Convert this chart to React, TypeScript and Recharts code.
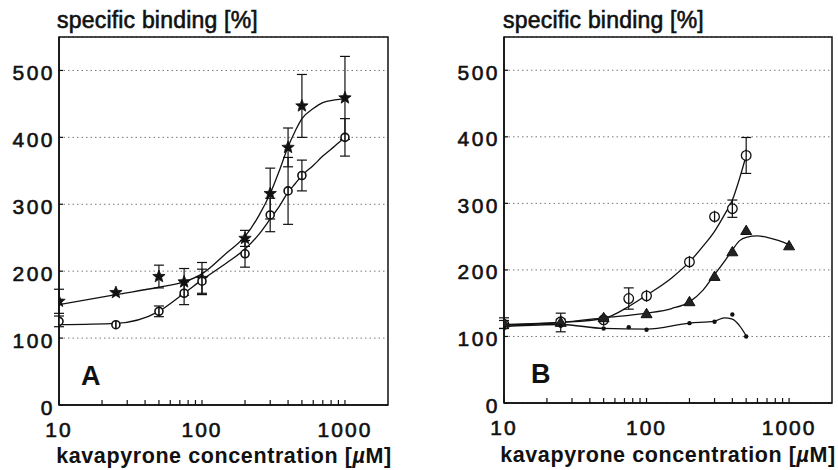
import React from 'react';
import {
  ComposedChart,
  Line,
  Scatter,
  XAxis,
  YAxis,
  CartesianGrid,
  ErrorBar,
  ReferenceArea,
} from 'recharts';

const FONT = "'Liberation Sans', Arial, Helvetica, sans-serif";
const INK = '#111';

// axis ticks
const X_TICKS = [10, 20, 30, 40, 50, 60, 70, 80, 90, 100, 200, 300, 400, 500, 600, 700, 800, 900, 1000];
const X_LABELS = [10, 100, 1000];
const Y_TICKS = [0, 100, 200, 300, 400, 500];

// panel A: measured points
const A_CONC = [10, 25, 50, 75, 100, 200, 300, 400, 500, 1000];
const A_STAR = [155, 168, 192, 184, 189, 249, 316, 385, 447, 459];
const A_STAR_ERR = [18, null, 17, 20, 24, 12, 38, 29, 47, 62];
const A_CIRC = [125, 120, 140, 167, 185, 226, 284, 320, 343, 400];
const A_CIRC_ERR = [8, null, 8, 17, 18, 20, 25, 50, 23, 28];

// panel A: fitted curves
const A_FIT_CONC = [10, 25, 50, 75, 100, 150, 200, 250, 300, 350, 400, 450, 500, 600, 700, 850, 1000];
const A_STAR_FIT = [150, 165, 176, 184, 196, 228, 252, 283, 316, 352, 386, 410, 428, 443, 452, 456, 458];
const A_CIRC_FIT = [120, 122, 140, 167, 187, 213, 233, 255, 278, 298, 318, 331, 343, 358, 372, 387, 400];

// panel B: measured points
const B_CONC = [10, 25, 50, 75, 100, 200, 300, 400, 500];
const B_CIRC = [118, 122, 125, 157, 161, 212, 280, 292, 372];
const B_CIRC_ERR = [6, 4, null, 16, null, null, null, 13, 27];
const B_TRI_CONC = [10, 25, 50, 100, 200, 300, 400, 500, 1000];
const B_TRI = [120, 121, 128, 134, 152, 190, 227, 259, 236];
const B_TRI_ERR = [8, 14, null, null, null, null, null, null, null];
const B_DOT = [113, 116, 112, 114, 110, 120, 122, 133, 100];

// panel B: fitted curves
const B_CIRC_FIT_CONC = [10, 25, 50, 75, 100, 150, 200, 250, 300, 350, 400, 450, 500];
const B_CIRC_FIT = [118, 121, 127, 145, 162, 188, 212, 236, 258, 282, 305, 338, 372];
const B_TRI_FIT_CONC = [10, 25, 50, 100, 150, 200, 250, 300, 350, 400, 450, 500, 600, 700, 850, 1000];
const B_TRI_FIT = [117, 121, 128, 135, 142, 152, 170, 193, 212, 230, 244, 249, 251, 249, 244, 238];
const B_DOT_FIT_CONC = [10, 25, 50, 100, 200, 300, 350, 400, 450, 500];
const B_DOT_FIT = [115, 118, 112, 111, 120, 123, 128, 126, 116, 101];

type Pt = { x: number; y: number; err?: number | null };

const pts = (xs: number[], ys: number[], errs?: (number | null)[]): Pt[] =>
  xs.map((x, i) => ({ x, y: ys[i], err: errs ? errs[i] : null }));

// thickened text, closer to the heavy print of the scan
const HEAVY = { stroke: INK, strokeWidth: 0.6, paintOrder: 'stroke' } as const;

// ---- markers -------------------------------------------------------------

function StarMark({ cx, cy }: any) {
  const p: string[] = [];
  for (let i = 0; i < 10; i++) {
    const r = i % 2 === 0 ? 6.5 : 2.8;
    const a = -Math.PI / 2 + (i * Math.PI) / 5;
    p.push(`${cx + r * Math.cos(a)},${cy + r * Math.sin(a)}`);
  }
  return <polygon points={p.join(' ')} fill={INK} stroke={INK} strokeWidth={0.8} />;
}

function SmallCircle({ cx, cy }: any) {
  return (
    <g>
      <circle cx={cx} cy={cy} r={4} fill="#fff" stroke={INK} strokeWidth={1.6} />
      <line x1={cx} y1={cy - 4} x2={cx} y2={cy + 4} stroke={INK} strokeWidth={1.6} />
    </g>
  );
}

function PhiMark({ cx, cy }: any) {
  return (
    <g>
      <circle cx={cx} cy={cy} r={4.8} fill="#fff" stroke={INK} strokeWidth={1.3} />
      <line x1={cx} y1={cy - 6} x2={cx} y2={cy + 6} stroke={INK} strokeWidth={1.3} />
    </g>
  );
}

function TriMark({ cx, cy }: any) {
  const s = 5.5;
  return (
    <polygon
      points={`${cx},${cy - s} ${cx + s},${cy + s * 0.7} ${cx - s},${cy + s * 0.7}`}
      fill="#222"
      stroke={INK}
      strokeWidth={1}
    />
  );
}

function DotMark({ cx, cy }: any) {
  return <circle cx={cx} cy={cy} r={2.2} fill={INK} />;
}

// ---- axis ticks ----------------------------------------------------------

function XTick({ x, y, payload }: any) {
  const v = payload.value;
  return (
    <g>
      <line x1={x} y1={y} x2={x} y2={y - 5} stroke={INK} strokeWidth={1.2} />
      {X_LABELS.includes(v) ? (
        <text
          x={x}
          y={y + 32}
          textAnchor="middle"
          fontFamily={FONT}
          fontSize={21}
          letterSpacing={2}
          fill={INK}
          {...HEAVY}
        >
          {v}
        </text>
      ) : null}
    </g>
  );
}

function YTick({ x, y, payload }: any) {
  return (
    <g>
      <line x1={x} y1={y} x2={x + 4} y2={y} stroke={INK} strokeWidth={1.2} />
      <text
        x={x - 4}
        y={y + 2}
        dominantBaseline="central"
        textAnchor="end"
        fontFamily={FONT}
        fontSize={21}
        letterSpacing={2.5}
        fill={INK}
        {...HEAVY}
      >
        {payload.value}
      </text>
    </g>
  );
}

// ---- panel ---------------------------------------------------------------

type Series = { fit: Pt[]; data: Pt[]; shape: (p: any) => React.ReactElement };

function Panel({
  left,
  right,
  bottom,
  series,
}: {
  left: number;
  right: number;
  bottom: number;
  series: Series[];
}) {
  return (
    <ComposedChart width={419} height={470} margin={{ top: 37, right, bottom: 0, left: 0 }}>
      <CartesianGrid vertical={false} stroke="#777" strokeDasharray="1.5 3" />
      <XAxis
        dataKey="x"
        type="number"
        scale="log"
        domain={[10, 2000]}
        allowDataOverflow
        ticks={X_TICKS}
        interval={0}
        tickSize={0}
        tickMargin={0}
        tickLine={false}
        tick={<XTick />}
        height={bottom}
        axisLine={{ stroke: INK, strokeWidth: 1.6 }}
      />
      <YAxis
        dataKey="y"
        type="number"
        domain={[0, 550]}
        allowDataOverflow
        ticks={Y_TICKS}
        interval={0}
        tickSize={0}
        tickMargin={0}
        tickLine={false}
        tick={<YTick />}
        width={left}
        axisLine={{ stroke: INK, strokeWidth: 1.6 }}
      />
      <ReferenceArea x1={10} x2={2000} y1={0} y2={550} fill="none" stroke={INK} strokeWidth={1.5} />
      {series.map((s, i) => (
        <Line
          key={`fit${i}`}
          data={s.fit}
          dataKey="y"
          type="monotone"
          stroke={INK}
          strokeWidth={1.3}
          dot={false}
          activeDot={false}
          isAnimationActive={false}
        />
      ))}
      {series.map((s, i) => (
        <Scatter key={`pts${i}`} data={s.data} dataKey="y" shape={s.shape} isAnimationActive={false}>
          <ErrorBar dataKey="err" direction="y" width={5} stroke={INK} strokeWidth={1.2} />
        </Scatter>
      ))}
    </ComposedChart>
  );
}

export default function App() {
  const seriesA: Series[] = [
    { fit: pts(A_FIT_CONC, A_STAR_FIT), data: pts(A_CONC, A_STAR, A_STAR_ERR), shape: (p) => <StarMark {...p} /> },
    { fit: pts(A_FIT_CONC, A_CIRC_FIT), data: pts(A_CONC, A_CIRC, A_CIRC_ERR), shape: (p) => <SmallCircle {...p} /> },
  ];
  const seriesB: Series[] = [
    { fit: pts(B_CIRC_FIT_CONC, B_CIRC_FIT), data: pts(B_CONC, B_CIRC, B_CIRC_ERR), shape: (p) => <PhiMark {...p} /> },
    { fit: pts(B_TRI_FIT_CONC, B_TRI_FIT), data: pts(B_TRI_CONC, B_TRI, B_TRI_ERR), shape: (p) => <TriMark {...p} /> },
    { fit: pts(B_DOT_FIT_CONC, B_DOT_FIT), data: pts(B_CONC, B_DOT), shape: (p) => <DotMark {...p} /> },
  ];

  const titleStyle = { fontFamily: FONT, fill: INK } as const;

  return (
    <div style={{ position: 'absolute', left: 0, top: 0, width: 838, height: 470, background: '#fff' }}>
      <div style={{ position: 'absolute', left: 0, top: 0 }}>
        <Panel left={59} right={31} bottom={65} series={seriesA} />
      </div>
      <div style={{ position: 'absolute', left: 419, top: 0 }}>
        <Panel left={85} right={6} bottom={67} series={seriesB} />
      </div>
      <svg width={838} height={470} style={{ position: 'absolute', left: 0, top: 0, pointerEvents: 'none' }}>
        <text x={57} y={28} fontSize={23} letterSpacing={0.2} {...titleStyle} {...HEAVY}>
          specific binding [%]
        </text>
        <text x={503} y={28} fontSize={23} letterSpacing={0.2} {...titleStyle} {...HEAVY}>
          specific binding [%]
        </text>
        <text x={224} y={463} fontSize={21.5} fontWeight="bold" textAnchor="middle" letterSpacing={0.6} {...titleStyle}>
          kavapyrone concentration [<tspan fontStyle="italic">µ</tspan>M]
        </text>
        <text x={668} y={462} fontSize={21.5} fontWeight="bold" textAnchor="middle" letterSpacing={0.6} {...titleStyle}>
          kavapyrone concentration [<tspan fontStyle="italic">µ</tspan>M]
        </text>
        <text x={81} y={385} fontSize={27} fontWeight="bold" {...titleStyle}>
          A
        </text>
        <text x={531} y={383} fontSize={27} fontWeight="bold" {...titleStyle}>
          B
        </text>
      </svg>
    </div>
  );
}
